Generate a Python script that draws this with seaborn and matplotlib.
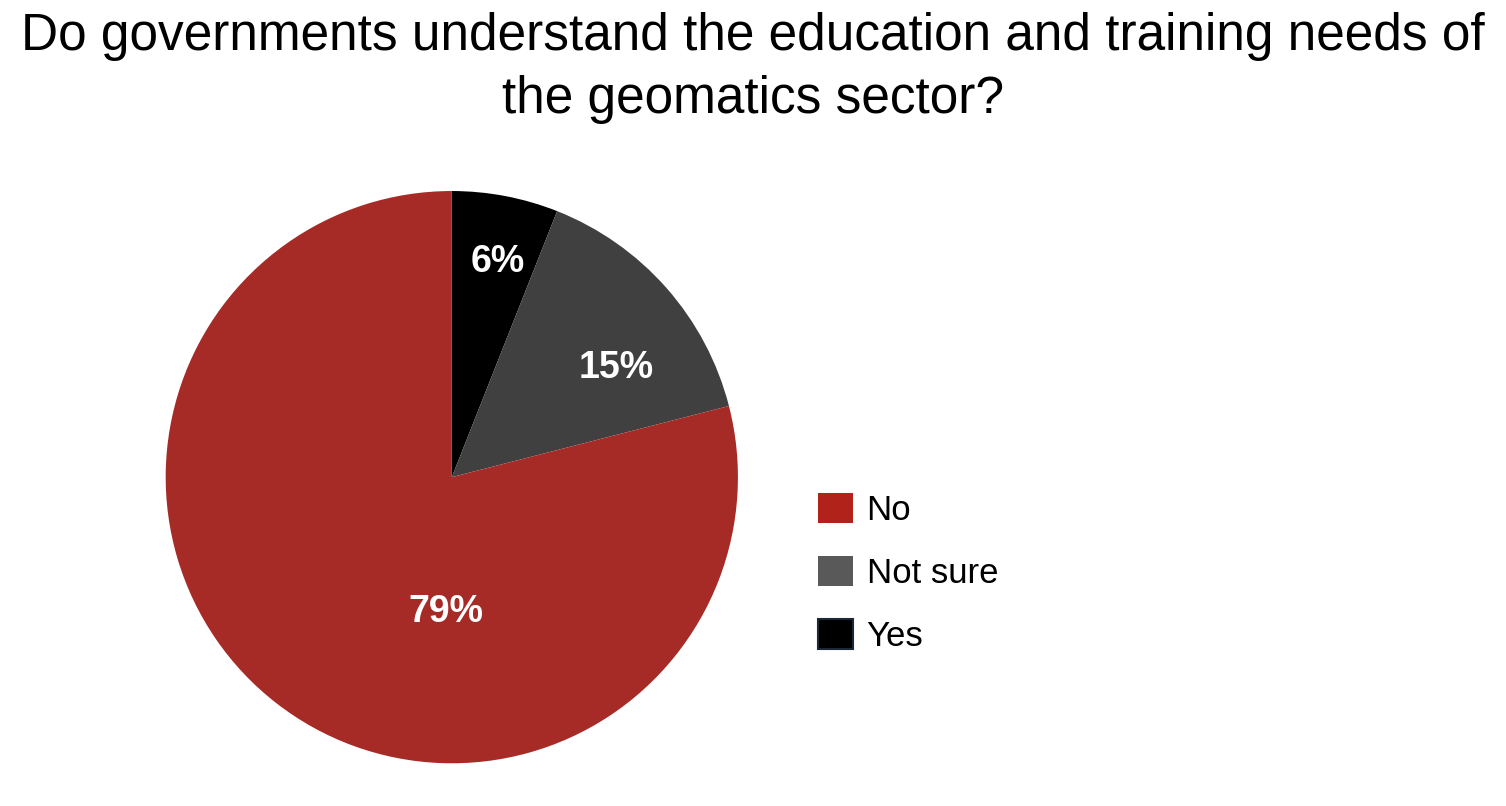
import matplotlib
matplotlib.use("Agg")
import matplotlib.pyplot as plt
from matplotlib.patches import Patch
import seaborn as sns
import numpy as np

# survey answers, clockwise from 12 o'clock
answers = ["Yes", "Not sure", "No"]
shares = [6, 15, 79]
pie_colors = ["#000000", "#404040", "#A62B26"]

# legend is listed in a different order
legend_order = ["No", "Not sure", "Yes"]
legend_colors = {"No": "#B0221A", "Not sure": "#595959", "Yes": "#000000"}

title = "Do governments understand the education and training needs of\nthe geomatics sector?"

sns.set_theme(style="white")
plt.rcParams["font.family"] = ["Liberation Sans", "DejaVu Sans"]
plt.rcParams["text.color"] = "black"

fig = plt.figure(figsize=(15.06, 8.06), dpi=100)
ax = fig.add_axes([0.110, 0.053, 0.380, 0.710])

wedges, _ = ax.pie(shares, colors=pie_colors, startangle=90, counterclock=False,
                   radius=1.0, wedgeprops=dict(linewidth=0))
ax.set_xlim(-1, 1)
ax.set_ylim(-1, 1)
ax.set_aspect("equal")

# label placement per slice (angle in degrees, distance from centre)
label_pos = {"Yes": (78, 0.77), "Not sure": (33.5, 0.69), "No": (-92.5, 0.47)}
for name, val in zip(answers, shares):
    ang, dist = label_pos[name]
    x = dist * np.cos(np.radians(ang))
    y = dist * np.sin(np.radians(ang))
    ax.text(x, y, f"{val}%", ha="center", va="center", color="white",
            fontsize=27, fontweight="bold")

fig.suptitle(title, fontsize=37, y=1 - 113 / 806, va="baseline",
             linespacing=1.38, color="black")

handles = [Patch(facecolor=legend_colors[n],
                 edgecolor="#1B2838" if n == "Yes" else legend_colors[n],
                 linewidth=1.5 if n == "Yes" else 0) for n in legend_order]
leg = fig.legend(handles, legend_order, loc="center left",
                 bbox_to_anchor=(818 / 1506, 1 - 573 / 806), frameon=False,
                 fontsize=25, handlelength=1.0, handleheight=0.95,
                 handletextpad=0.4, labelspacing=0.85, borderpad=0, borderaxespad=0)
for t in leg.get_texts():
    t.set_color("black")

fig.savefig("out.png", dpi=100, facecolor="white")
